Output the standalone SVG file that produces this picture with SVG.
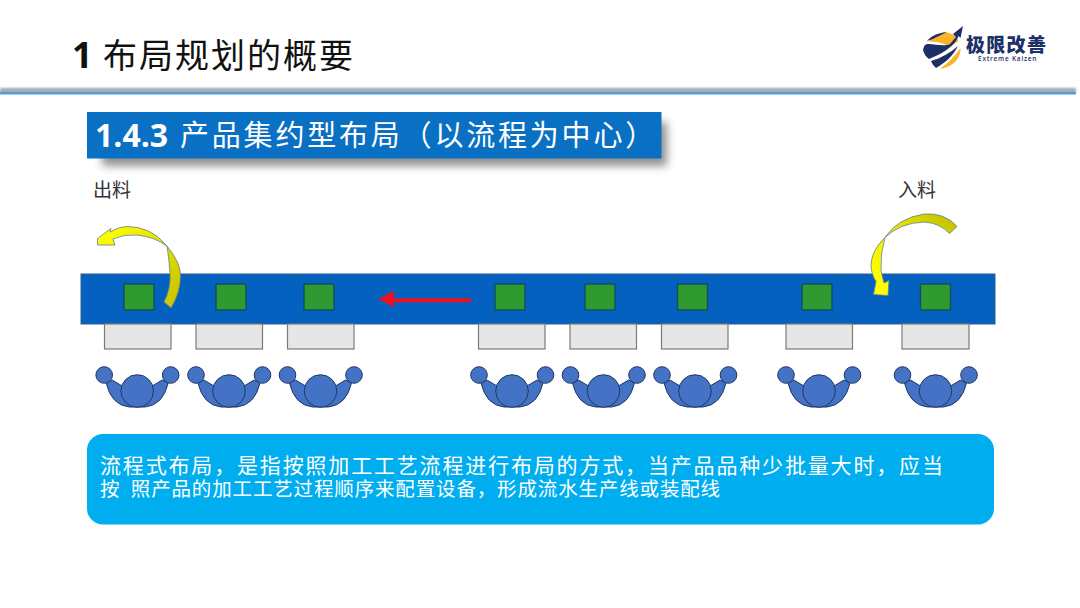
<svg xmlns="http://www.w3.org/2000/svg" width="1080" height="608" viewBox="0 0 1080 608">
<style>
.cjk{font-family:"Noto Sans CJK SC","Noto Sans",sans-serif}
.lat{font-family:"Open Sans","Noto Sans CJK SC",sans-serif;font-weight:700}
.tbl{fill:#e6e6e6;stroke:#7a7a7a;stroke-width:1.2}
.sq{fill:#2f9a2f;stroke:#0f4f5f;stroke-width:1.4}
.per{fill:#4472c4;stroke:#1f3864;stroke-width:1}
.arrow{stroke:#5f7f8f;stroke-width:.8}
</style>
<defs>
<filter id="blur" x="-10%" y="-60%" width="120%" height="220%"><feGaussianBlur stdDeviation="4"/></filter>
<filter id="blur2" x="-2%" y="-200%" width="104%" height="500%"><feGaussianBlur stdDeviation="1.2"/></filter>
<linearGradient id="yl" gradientUnits="userSpaceOnUse" x1="100" y1="235" x2="178" y2="300"><stop offset="0" stop-color="#ffff00"/><stop offset="1" stop-color="#c9c400"/></linearGradient>
<linearGradient id="yr" gradientUnits="userSpaceOnUse" x1="885" y1="295" x2="950" y2="222"><stop offset="0" stop-color="#ffff00"/><stop offset=".45" stop-color="#f4f000"/><stop offset="1" stop-color="#c9c400"/></linearGradient>
<g id="person">
<path class="per" d="M-31-8 Q-26 14 -8 16 L8 16 Q26 14 31-8 L25-11 L15-5 L-15-5 L-25-11 Z"/>
<circle class="per" cx="-33" cy="-16" r="8.300"/>
<circle class="per" cx="33.500" cy="-16" r="8.300"/>
<circle class="per" cx="0" cy="0" r="16.300"/>
</g>
</defs>
<rect width="1080" height="608" fill="#ffffff"/>

<g id="header">
<text class="lat" x="72" y="68" font-size="36" fill="#111">1</text>
<text class="cjk" x="103" y="68" font-size="34" letter-spacing="2" fill="#111">布局规划的概要</text>
<rect x="0" y="88" width="1076" height="4" fill="#a6a6a6" filter="url(#blur2)"/>
<rect x="0" y="91.500" width="1076" height="3" fill="#5b9bd5"/>
</g>

<g id="logo">
<path d="M940 69 C952 67 961 59 960.500 48 C955 56 948 63 940 69Z" fill="#fbb42a"/>
<path d="M929 42 C933 36 942 32.500 948 32.500 C953 34 957 37 958.500 41 L950 47 C944 43 936 41 929 42Z" fill="#fbb42a"/>
<path d="M927 41 C931 36 939 32.500 947 32 C941 35 936 37 933 39 C931 40 929 40 927 41Z" fill="#1c2f66"/>
<path d="M923 50 C924 46 925 44 928 44 C936 44 944 47 950 44 L956 37 L953 34 L963 26 L960.500 38 L958.500 36 C956 44 945 53 929 59 C926 57 924 54 923 50Z" fill="#1c2f66"/>
<path d="M931 61 C941 58 950 53 958 46 C953 56 945 63 936 68 C934 66 932 64 931 61Z" fill="#1c2f66"/>
<text class="cjk" font-weight="900" fill="#1c2f66"><tspan x="966" y="52" font-size="19" letter-spacing="1.300">极限改善</tspan><tspan x="978" y="61" font-size="6.500" letter-spacing=".75" font-weight="600" style="font-family:'Open Sans',sans-serif">Extreme Kaizen</tspan></text>
</g>

<g id="subtitle">
<rect x="102" y="122" width="565" height="44" fill="#777" opacity=".8" filter="url(#blur)"/>
<rect x="87" y="112" width="574.500" height="46.500" fill="#0a70c4"/>
<text class="lat" x="95" y="147" font-size="32" fill="#fff">1.4.3</text>
<text class="cjk" x="180" y="146" font-size="29" letter-spacing="2.800" fill="#fff">产品集约型布局（以流程为中心）</text>
</g>

<text id="label-out" class="cjk" x="93" y="197" font-size="19" fill="#333">出料</text>
<text id="label-in" class="cjk" x="898" y="197" font-size="19" fill="#333">入料</text>

<g id="line">
<rect x="81" y="274" width="914" height="50" fill="#0561bf" stroke="#2f5f8f" stroke-width="1"/>
</g>

<g id="stations">
<g id="st1"><rect class="sq" x="124" y="284" width="30" height="26"/><rect class="tbl" x="104.500" y="324" width="66.500" height="25"/><use href="#person" x="137.200" y="391"/></g>
<g id="st2"><rect class="sq" x="216" y="284" width="30" height="26"/><rect class="tbl" x="196" y="324" width="66.500" height="25"/><use href="#person" x="229" y="391"/></g>
<g id="st3"><rect class="sq" x="304" y="284" width="30" height="26"/><rect class="tbl" x="287.500" y="324" width="66.500" height="25"/><use href="#person" x="320.500" y="391"/></g>
<g id="st4"><rect class="sq" x="495" y="284" width="30" height="26"/><rect class="tbl" x="478.500" y="324" width="66.500" height="25"/><use href="#person" x="512" y="391"/></g>
<g id="st5"><rect class="sq" x="585" y="284" width="30" height="26"/><rect class="tbl" x="570" y="324" width="66.500" height="25"/><use href="#person" x="603.500" y="391"/></g>
<g id="st6"><rect class="sq" x="677.500" y="284" width="30" height="26"/><rect class="tbl" x="661.500" y="324" width="66.500" height="25"/><use href="#person" x="695" y="391"/></g>
<g id="st7"><rect class="sq" x="802" y="284" width="30" height="26"/><rect class="tbl" x="786" y="324" width="66.500" height="25"/><use href="#person" x="819" y="391"/></g>
<g id="st8"><rect class="sq" x="920.500" y="284" width="30" height="26"/><rect class="tbl" x="902" y="324" width="67" height="25"/><use href="#person" x="935.500" y="391"/></g>
</g>

<g id="connectors">
<path class="arrow" fill="url(#yl)" d="M97.500 238.500 L111 228.500 L110 232 Q118 227 126 226.500 Q151 226 167 246 Q180 262 180.500 274 Q181 292 171 308 L164 302 Q171 288 170 274 Q169 258 167 246 Q155 237 137 235 Q124 234 113 239 L115 245 L97.500 245 Z"/>
<path class="arrow" fill="url(#yr)" d="M957 226.500 L949.500 233.500 Q940 223 924 222 Q900 223 885 237.500 Q880 254 881 270 Q882 276 884 283 L889 280.500 L888 295.500 L873.500 294.500 L876 281.500 Q871 274 871 264 Q872 250 885 237.500 Q898 218 924 214 Q945 212.500 957 226.500Z"/>
<path d="M470 299 L393 299 L393 292 L380 299 L393 306 L393 301.500 L470 301.500 Z" fill="#ee1122" stroke="#ee1122" stroke-width="1.500"/>
</g>

<g id="note">
<rect x="87" y="434" width="907" height="90.500" rx="16" fill="#00aeef"/>
<text class="cjk" fill="#fff" xml:space="preserve"><tspan x="100" y="473" font-size="21" letter-spacing="1.830">流程式布局，是指按照加工工艺流程进行布局的方式，当产品品种少批量大时，应当</tspan><tspan x="100" y="496" font-size="19.500" letter-spacing=".85">按  照产品的加工工艺过程顺序来配置设备，形成流水生产线或装配线</tspan></text>
</g>
</svg>
